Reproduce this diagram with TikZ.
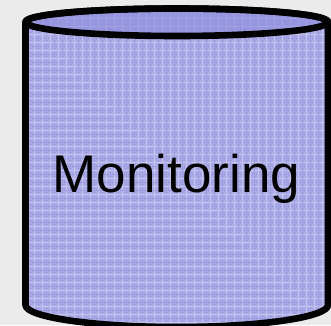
\documentclass[tikz,border=0pt]{standalone}
\usepackage{fontspec}
\setmainfont{Liberation Sans}
\definecolor{pagebg}{HTML}{EBEBEB}
\definecolor{cylbase}{HTML}{A9A9E8}
\definecolor{topbase}{HTML}{9696E0}
\definecolor{gridlite}{HTML}{C6C6EC}
\definecolor{griddark}{HTML}{9292DC}
\tikzset{
  outline/.style={draw=black,line width=6.6pt,line join=round},
  gridline/.style={gridlite,line width=1pt},
  dotline/.style={griddark,line width=1pt,dash pattern=on 1pt off 1pt},
}
\def\bodypath{(25.5,22) .. controls (25.5,14.3) and (93.25,8.5) .. (176.75,8.5) .. controls (260.25,8.5) and (328,14.3) .. (328,22) -- (328,305) .. controls (328,317.15) and (260.25,327) .. (176.75,327) .. controls (93.25,327) and (25.5,317.15) .. (25.5,305) -- cycle}
\def\toppath{(25.5,22) .. controls (25.5,14.3) and (93.25,8.5) .. (176.75,8.5) .. controls (260.25,8.5) and (328,14.3) .. (328,22) .. controls (328,29.7) and (260.25,36) .. (176.75,36) .. controls (93.25,36) and (25.5,29.7) .. (25.5,22) -- cycle}
\begin{document}
\begin{tikzpicture}[x=1pt,y=-1pt]
\useasboundingbox (0,0) rectangle (331,325);
\fill[pagebg] (0,0) rectangle (331,325);
\begin{scope}
\clip \bodypath;
\fill[cylbase] (0,0) rectangle (331,330);
\foreach \k in {0,...,41} {
  \draw[dotline] (\k*8+6,0) -- (\k*8+6,330);
  \draw[dotline] (0,\k*8+6) -- (331,\k*8+6);
  \draw[gridline] (\k*8+2,0) -- (\k*8+2,330);
  \draw[gridline] (0,\k*8+2) -- (331,\k*8+2);
}
\end{scope}
\begin{scope}
\clip \toppath;
\fill[topbase] (0,0) rectangle (331,40);
\foreach \k in {0,...,41} {
  \draw[griddark!70!gridlite,line width=1pt] (\k*8+2,0) -- (\k*8+2,40);
}
\foreach \k in {0,...,5} {
  \draw[griddark!70!gridlite,line width=1pt] (0,\k*8+2) -- (331,\k*8+2);
}
\end{scope}
\draw[outline] \bodypath;
\draw[outline] \toppath;
\node[font=\fontsize{53pt}{58pt}\selectfont,text=black,inner sep=0pt,anchor=base] (label) at (176.5,192) {Monitoring};
\end{tikzpicture}
\end{document}
